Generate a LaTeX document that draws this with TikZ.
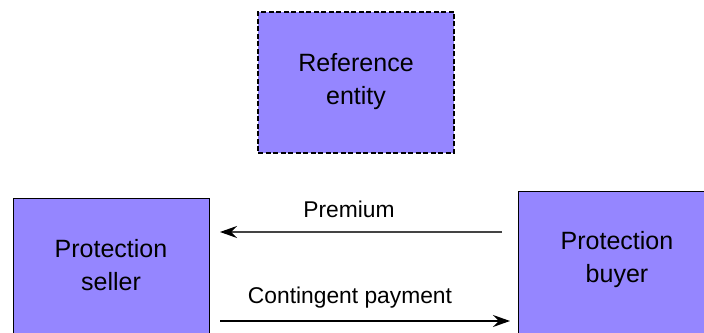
\documentclass[tikz,border=0pt]{standalone}
\usepackage{fontspec}
\setmainfont{Liberation Sans}
\usetikzlibrary{arrows.meta}
\definecolor{boxfill}{RGB}{149,134,255}
\definecolor{premline}{RGB}{68,68,68}
\tikzset{
  x=1pt, y=1pt,
  party/.style={draw=black, line width=1.2pt, fill=boxfill, rectangle, inner sep=0pt},
  boxtext/.style={align=center, font=\fontsize{25}{33}\selectfont, inner sep=0pt},
  flowlabel/.style={font=\fontsize{22.8}{27}\selectfont, inner sep=0pt},
  flow/.style={line width=1.3pt, -{Stealth[length=17pt,width=12pt,inset=6pt,black]}},
}
\begin{document}
\begin{tikzpicture}
\useasboundingbox (0,0) rectangle (704,332);
\clip (0,0) rectangle (704,332);
\fill[white] (0,0) rectangle (704,332);

% reference entity (dashed outline)
\node[party, dashed, dash pattern=on 5pt off 2.5pt, minimum width=196pt, minimum height=141pt]
  (ref) at (356,249.5) {};
\node[boxtext] (reftext) at (356,250) {Reference\\entity};

% protection seller
\node[party, anchor=north west, minimum width=196pt, minimum height=150pt]
  (seller) at (13,134) {};
\node[boxtext] (sellertext) at (111,67) {Protection\\seller};

% protection buyer
\node[party, anchor=north west, minimum width=200pt, minimum height=150pt]
  (buyer) at (518,141) {};
\node[boxtext] (buyertext) at (617,72) {Protection\\buyer};

% cash flows
\coordinate (premL) at (220,100);
\coordinate (premR) at (502,100);
\coordinate (contL) at (220,11);
\coordinate (contR) at (510,11);
\draw[flow, draw=premline] (premR) -- (premL);
\draw[flow] (contL) -- (contR);
\node[flowlabel] (premium) at (349,123) {Premium};
\node[flowlabel] (contingent) at (350,34) {Contingent payment};
\end{tikzpicture}
\end{document}
